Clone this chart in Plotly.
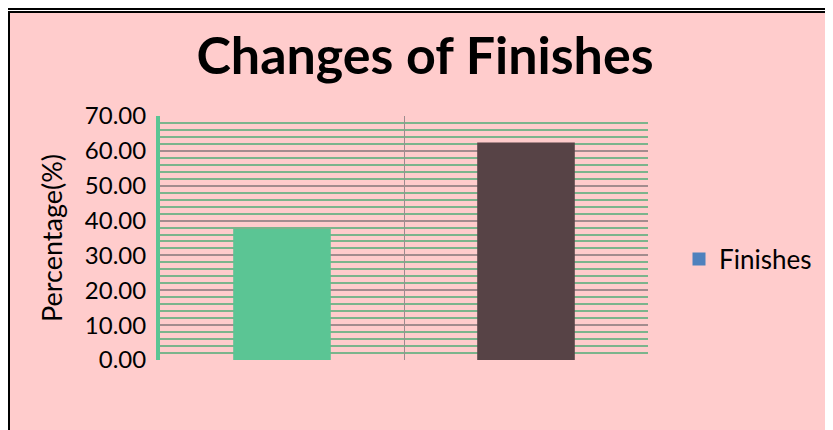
import plotly.graph_objects as go

categories = ["Before", "After"]
values = [37.6, 62.4]
bar_colors = ["#5BC594", "#574346"]
series_name = "Finishes"
y_ticks = [0, 10, 20, 30, 40, 50, 60, 70]

# the page places the figure at an 8px body margin, so work in figure pixels
W, H = 825, 422
ML, MR, MT, MB = 152, 185, 108, 70
PW, PH = W - ML - MR, H - MT - MB

def px_x(px):
    return (px - ML) / PW

def px_y(py):
    return (H - MB - py) / PH

fig = go.Figure()
fig.add_trace(go.Bar(x=categories, y=values, marker=dict(color=bar_colors, line=dict(width=0)),
                     width=0.4, showlegend=False))
fig.add_trace(go.Scatter(x=[None], y=[None], mode="markers", name=series_name,
                         marker=dict(symbol="square", color="#4F81BD", size=13)))

font_family = "Lato, Noto Sans, sans-serif"

fig.update_layout(
    width=W, height=H,
    margin=dict(l=ML, r=MR, t=MT, b=MB),
    paper_bgcolor="white",
    plot_bgcolor="#FFCCCC",
    font=dict(family=font_family, color="black"),
    title=dict(text="<b>Changes of Finishes</b>", x=417 / W, xanchor="center", xref="container",
               y=1 - 48 / H, yanchor="middle", yref="container",
               font=dict(size=52, family=font_family, color="black")),
    showlegend=True,
    legend=dict(x=px_x(671), y=px_y(251), xanchor="left", yanchor="middle",
                font=dict(size=26), bgcolor="rgba(0,0,0,0)", itemsizing="trace"),
    shapes=[
        dict(type="rect", xref="paper", yref="paper", layer="below",
             x0=px_x(1), x1=px_x(W + 20), y0=px_y(4), y1=px_y(H + 20),
             fillcolor="#FFCCCC", line=dict(color="black", width=2)),
        dict(type="line", xref="paper", yref="paper", layer="above",
             x0=px_x(-5), x1=px_x(W + 5), y0=px_y(0.5), y1=px_y(0.5),
             line=dict(color="black", width=3)),
    ],
)

fig.update_xaxes(
    type="category", showticklabels=False, ticks="",
    tickson="boundaries", showgrid=True, gridcolor="#9C8C8E", gridwidth=1,
    showline=False, zeroline=False, range=[-0.5, 1.5],
)
fig.update_yaxes(
    range=[0, 70], tickvals=y_ticks, tickformat=".2f",
    tickfont=dict(size=24), ticks="", ticklabelstandoff=5,
    showgrid=True, gridcolor="#A38C8E", gridwidth=1.5,
    minor=dict(dtick=2, showgrid=True, gridcolor="#7CB48C", gridwidth=2),
    showline=True, linecolor="#5BC594", linewidth=4,
    zeroline=False,
    title=dict(text="Percentage(%)", font=dict(size=27), standoff=15),
)

fig.write_html("out.html")
